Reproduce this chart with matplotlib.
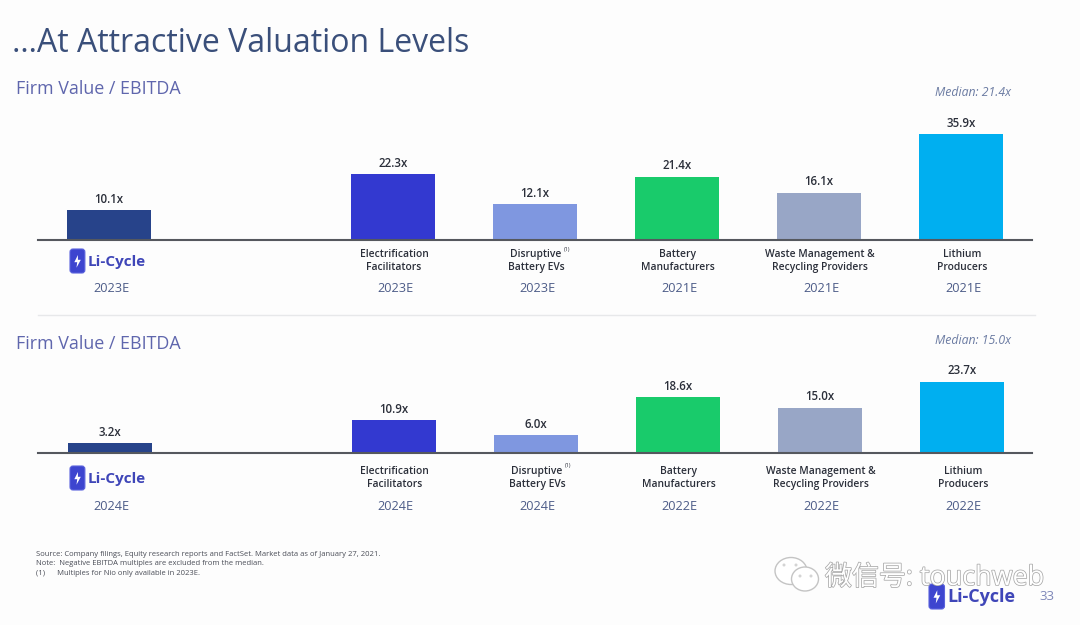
import matplotlib
matplotlib.use("Agg")
from matplotlib import pyplot as plt
from matplotlib import patheffects
from matplotlib.patches import FancyBboxPatch, Ellipse, Polygon

plt.rcParams['font.family'] = ['Open Sans', 'Noto Sans CJK SC', 'DejaVu Sans']

# data
slots = [0, 2, 3, 4, 5, 6]
categories = ["", "Electrification\nFacilitators", "Disruptive\nBattery EVs", "Battery\nManufacturers",
              "Waste Management &\nRecycling Providers", "Lithium\nProducers"]
colors = ["#27438a", "#3339d0", "#7f97e0", "#19cb6b", "#98a6c6", "#00aff0"]

top_values = [10.1, 22.3, 12.1, 21.4, 16.1, 35.9]
top_years = ["2023E", "2023E", "2023E", "2021E", "2021E", "2021E"]
top_median = "Median: 21.4x"

bottom_values = [3.2, 10.9, 6.0, 18.6, 15.0, 23.7]
bottom_years = ["2024E", "2024E", "2024E", "2022E", "2022E", "2022E"]
bottom_median = "Median: 15.0x"

title = "…At Attractive Valuation Levels"
panel_title = "Firm Value / EBITDA"
notes = ["Source: Company filings, Equity research reports and FactSet. Market data as of January 27, 2021.",
         "Note:  Negative EBITDA multiples are excluded from the median.",
         "(1)      Multiples for Nio only available in 2023E."]

W, H = 1080, 625
NAVY = "#3a4f7a"
HEAD = "#5f66ad"
YEAR = "#4d5c88"
DARK = "#2b2f3a"

fig = plt.figure(figsize=(W / 100, H / 100), dpi=100, facecolor="#fdfdfd")

# overlay in image pixels, for the slide furniture
bg = fig.add_axes([0, 0, 1, 1], zorder=3)
bg.set_xlim(0, W)
bg.set_ylim(H, 0)
bg.axis("off")


def draw_logo(x, y, size, text_size):
    # battery shaped badge and the company name
    bg.add_patch(FancyBboxPatch((x, y), size * 0.62, size, boxstyle="round,pad=0,rounding_size=3",
                                fc="#3d45cf", ec="#5a62dd", lw=0.8))
    bg.add_patch(Polygon([(x + size * 0.33, y + size * 0.25), (x + size * 0.18, y + size * 0.55),
                          (x + size * 0.3, y + size * 0.55), (x + size * 0.27, y + size * 0.78),
                          (x + size * 0.45, y + size * 0.45), (x + size * 0.33, y + size * 0.45)],
                         fc="white", ec="none"))
    bg.text(x + size * 0.62 + 3, y + size * 0.54, "Li-Cycle", fontsize=text_size, fontweight="bold",
            color="#3f46b8", va="center", ha="left")


def draw_panel(base_px, px_per_x, values, years, median, median_y, heading_y, logo_y, label_dy, year_dy, shift):
    height_px = 150
    ax = fig.add_axes([38 / W, 1 - base_px / H, (1032 - 38) / W, height_px / H], zorder=2)
    ax.patch.set_alpha(0)
    ax.bar(slots, values, width=84 / 142, color=colors, linewidth=0)
    ax.set_xlim(-0.5 - shift, 6.5 - shift)
    ax.set_ylim(0, height_px / px_per_x)
    ax.set_xticks([])
    ax.set_yticks([])
    for side in ["top", "left", "right"]:
        ax.spines[side].set_visible(False)
    ax.spines["bottom"].set_color("#55585e")
    ax.spines["bottom"].set_linewidth(1.5)

    for s, v in zip(slots, values):
        ax.annotate(f"{v:.1f}x", (s, v), xytext=(0, 11), textcoords="offset pixels",
                    ha="center", va="center", fontsize=8.3, color=DARK, fontweight="semibold")
    for s, c, y in zip(slots, categories, years):
        if c:
            ax.annotate(c, (s, 0), xytext=(1, label_dy), textcoords="offset pixels", ha="center", va="center",
                        fontsize=7.4, color=DARK, linespacing=1.15, fontweight="semibold")
        ax.annotate(y, (s, 0), xytext=(2, year_dy), textcoords="offset pixels", ha="center", va="center",
                    fontsize=9.2, color=YEAR)
    # footnote marker on Disruptive
    ax.annotate("(1)", (slots[2], 0), xytext=(32, label_dy + 12), textcoords="offset pixels", ha="center",
                va="center", fontsize=4, color=DARK)

    bg.text(16, heading_y, panel_title, fontsize=12.9, color=HEAD, va="center", ha="left")
    bg.text(973, median_y, median, fontsize=8.8, color="#6b7ba2", style="italic",
            ha="center", va="center")
    draw_logo(70, logo_y, 24, 11)


bg.text(12, 43, title, fontsize=23, color=NAVY, va="center", ha="left")

draw_panel(240, 2.95, top_values, top_years, top_median, 92, 89, 249, -21, -49, 0)
draw_panel(453, 3.0, bottom_values, bottom_years, bottom_median, 340, 344, 466, -25, -54, 0.006)

bg.plot([38, 1035], [315, 315], color="#e7e8ea", lw=1)

for i, line in enumerate(notes):
    bg.text(36, 554 + i * 9.7, line, fontsize=5.5, color="#4a4d57", va="center", ha="left")

# bottom right logo and page number
draw_logo(929, 584, 25, 13)
bg.text(1047, 596, "33", fontsize=9.5, color="#7d86b8", ha="center", va="center")

# watermark
bg.add_patch(Ellipse((791, 571), 32, 27, fc="white", ec="#c4c4c4", lw=1, zorder=5))
bg.add_patch(Ellipse((805, 579), 27, 24, fc="white", ec="#c4c4c4", lw=1, zorder=5))
for ex, ey in [(784, 565), (796, 565), (800, 576), (811, 576)]:
    bg.add_patch(Ellipse((ex, ey), 3, 3, fc="#d4d4d4", ec="none", zorder=5))
stroke = [patheffects.withStroke(linewidth=1.1, foreground="#a8a8a8")]
bg.text(825, 578, "微信号: touchweb", fontsize=19.4, color="white", va="center", ha="left",
        path_effects=stroke, zorder=6)

fig.savefig("out.png", dpi=100, facecolor=fig.get_facecolor())
